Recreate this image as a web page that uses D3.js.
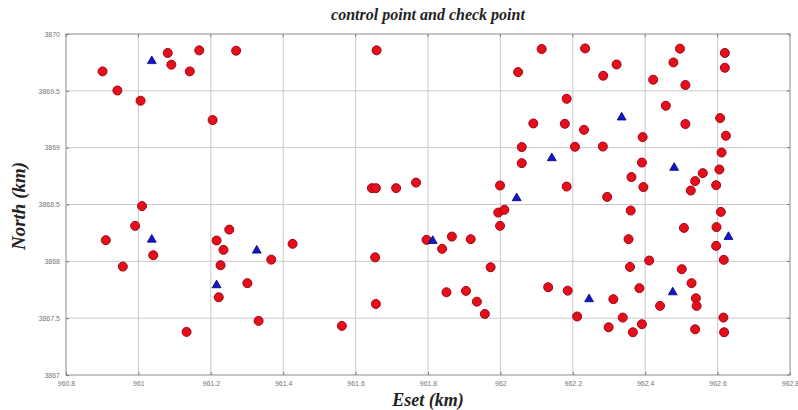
<!DOCTYPE html>
<html>
<head>
<meta charset="utf-8">
<script src="https://cdn.jsdelivr.net/npm/d3@7"></script>
<style>
  html, body { margin: 0; padding: 0; background: #fff; }
  svg { display: block; }
</style>
</head>
<body>
<svg id="chart" width="798" height="410"></svg>
<script>
// Control points (red circles), easting / northing in km
const controlEast = [
  960.901, 960.942, 961.006, 961.081, 961.091, 961.142, 961.168, 961.270, 961.205, 961.658,
  961.010, 960.991, 960.910, 961.041, 960.957, 961.251, 961.216, 961.235, 961.367, 961.227,
  961.301, 961.222, 961.426, 961.332, 961.133, 961.562, 961.645, 961.656, 961.654, 961.656,
  962.114, 962.234, 962.049, 962.183, 962.091, 962.178, 962.231, 962.059, 962.206, 962.059,
  961.712, 961.767, 961.999, 962.183, 961.994, 962.011, 961.999, 961.796, 961.866, 961.918,
  961.839, 961.973, 961.851, 961.905, 961.935, 961.957, 962.132, 962.186, 962.212, 962.321,
  962.284, 962.496, 962.478, 962.422, 962.511, 962.620, 962.620, 962.457, 962.511, 962.393,
  962.283, 962.607, 962.623, 962.611, 962.391, 962.362, 962.395, 962.559, 962.538, 962.526,
  962.605, 962.596, 962.295, 962.360, 962.609, 962.507, 962.597, 962.596, 962.354, 962.617,
  962.411, 962.358, 962.501, 962.528, 962.384, 962.540, 962.542, 962.441, 962.312, 962.338,
  962.299, 962.391, 962.366, 962.616, 962.618, 962.538
];
const controlNorth = [
  3869.671, 3869.503, 3869.413, 3869.833, 3869.730, 3869.671, 3869.856, 3869.853, 3869.243, 3869.856,
  3868.486, 3868.312, 3868.186, 3868.054, 3867.954, 3868.279, 3868.183, 3868.101, 3868.015, 3867.966,
  3867.808, 3867.684, 3868.154, 3867.476, 3867.379, 3867.432, 3868.644, 3868.644, 3868.035, 3867.625,
  3869.868, 3869.873, 3869.665, 3869.430, 3869.213, 3869.210, 3869.157, 3869.005, 3869.008, 3868.864,
  3868.644, 3868.693, 3868.667, 3868.658, 3868.429, 3868.453, 3868.312, 3868.189, 3868.218, 3868.195,
  3868.110, 3867.948, 3867.728, 3867.740, 3867.645, 3867.537, 3867.772, 3867.742, 3867.515, 3869.732,
  3869.633, 3869.871, 3869.750, 3869.598, 3869.551, 3869.833, 3869.703, 3869.369, 3869.208, 3869.093,
  3869.010, 3869.260, 3869.105, 3868.957, 3868.869, 3868.741, 3868.653, 3868.776, 3868.706, 3868.623,
  3868.808, 3868.670, 3868.567, 3868.447, 3868.435, 3868.294, 3868.301, 3868.136, 3868.195, 3868.013,
  3868.007, 3867.951, 3867.931, 3867.808, 3867.764, 3867.675, 3867.608, 3867.608, 3867.667, 3867.505,
  3867.420, 3867.447, 3867.376, 3867.505, 3867.376, 3867.402
];

// Check points (blue triangles)
const checkEast = [
  961.037, 961.037, 961.327, 961.216, 961.813, 962.142,
  962.045, 962.245, 962.335, 962.480, 962.630, 962.476
];
const checkNorth = [
  3869.762, 3868.191, 3868.095, 3867.790, 3868.180, 3868.908,
  3868.556, 3867.667, 3869.266, 3868.823, 3868.215, 3867.728
];

// Axis ticks and their labels
const xTicks = [960.8, 961, 961.2, 961.4, 961.6, 961.8, 962, 962.2, 962.4, 962.6, 962.8];
const xTickLabels = ["960.8", "961", "961.2", "961.4", "961.6", "961.8", "962", "962.2", "962.4", "962.6", "962.8"];
const yTicks = [3867, 3867.5, 3868, 3868.5, 3869, 3869.5, 3870];
const yTickLabels = ["3867", "3867.5", "3868", "3868.5", "3869", "3869.5", "3870"];

const titleText = "control point and check point";
const xLabelText = "Eset (km)";
const yLabelText = "North (km)";

const svg = d3.select("#chart");
const plot = { left: 66, right: 790, top: 34, bottom: 375 };

const x = d3.scaleLinear().domain([960.8, 962.8]).range([plot.left, plot.right]);
const y = d3.scaleLinear().domain([3867, 3870]).range([plot.bottom, plot.top]);

// Grid lines
const grid = svg.append("g");
grid.selectAll(".gx").data(xTicks.slice(1, -1)).enter().append("line")
  .attr("x1", d => x(d)).attr("x2", d => x(d))
  .attr("y1", plot.top).attr("y2", plot.bottom)
  .attr("stroke", "#c9c9c9").attr("stroke-width", 1);
grid.selectAll(".gy").data(yTicks.slice(1, -1)).enter().append("line")
  .attr("y1", d => y(d)).attr("y2", d => y(d))
  .attr("x1", plot.left).attr("x2", plot.right)
  .attr("stroke", "#c9c9c9").attr("stroke-width", 1);

// Axes with inward ticks
const tickFont = "Liberation Sans, Arial, sans-serif";
const xAxis = d3.axisBottom(x).tickValues(xTicks)
  .tickFormat((d, i) => xTickLabels[i]).tickSizeInner(-3).tickSizeOuter(0).tickPadding(6);
const yAxis = d3.axisLeft(y).tickValues(yTicks)
  .tickFormat((d, i) => yTickLabels[i]).tickSizeInner(-3).tickSizeOuter(0).tickPadding(6);

const gx = svg.append("g").attr("transform", `translate(0,${plot.bottom})`).call(xAxis);
const gy = svg.append("g").attr("transform", `translate(${plot.left},0)`).call(yAxis);
[gx, gy].forEach(g => {
  g.select(".domain").remove();
  g.selectAll(".tick line").attr("stroke", "#777");
  g.selectAll(".tick text").attr("fill", "#777").style("font-family", tickFont).style("font-size", "7px");
});

// Top and right ticks
svg.append("g").selectAll("line").data(xTicks).enter().append("line")
  .attr("x1", d => x(d)).attr("x2", d => x(d))
  .attr("y1", plot.top).attr("y2", plot.top + 3).attr("stroke", "#777");
svg.append("g").selectAll("line").data(yTicks).enter().append("line")
  .attr("y1", d => y(d)).attr("y2", d => y(d))
  .attr("x1", plot.right).attr("x2", plot.right - 3).attr("stroke", "#777");

// Plot frame
svg.append("rect")
  .attr("x", plot.left).attr("y", plot.top)
  .attr("width", plot.right - plot.left).attr("height", plot.bottom - plot.top)
  .attr("fill", "none").attr("stroke", "#8a8a8a").attr("stroke-width", 1);

// Control points
const controlData = controlEast.map((e, i) => ({ e, n: controlNorth[i] }));
svg.append("g").selectAll("circle").data(controlData).enter().append("circle")
  .attr("cx", d => x(d.e)).attr("cy", d => y(d.n)).attr("r", 4.5)
  .attr("fill", "#e3101c").attr("stroke", "#a80012").attr("stroke-width", 1);

// Check points
const checkData = checkEast.map((e, i) => ({ e, n: checkNorth[i] }));
const tri = d3.symbol().type(d3.symbolTriangle).size(34);
svg.append("g").selectAll("path").data(checkData).enter().append("path")
  .attr("d", tri)
  .attr("transform", d => `translate(${x(d.e)},${y(d.n)})`)
  .attr("fill", "#1414c8").attr("stroke", "#00007a").attr("stroke-width", 0.8);

// Title and axis labels
const labelFont = "Liberation Serif, Times New Roman, serif";
svg.append("text")
  .attr("x", (plot.left + plot.right) / 2).attr("y", 20)
  .attr("text-anchor", "middle")
  .style("font-family", labelFont).style("font-size", "16px")
  .style("font-weight", "bold").style("font-style", "italic")
  .attr("fill", "#222").text(titleText);

svg.append("text")
  .attr("x", 428).attr("y", 406)
  .attr("text-anchor", "middle")
  .style("font-family", labelFont).style("font-size", "18px")
  .style("font-weight", "bold").style("font-style", "italic")
  .attr("fill", "#222").text(xLabelText);

svg.append("text")
  .attr("transform", "translate(25,206) rotate(-90)")
  .attr("text-anchor", "middle")
  .style("font-family", labelFont).style("font-size", "19px")
  .style("font-weight", "bold").style("font-style", "italic")
  .attr("fill", "#222").text(yLabelText);
</script>
</body>
</html>
